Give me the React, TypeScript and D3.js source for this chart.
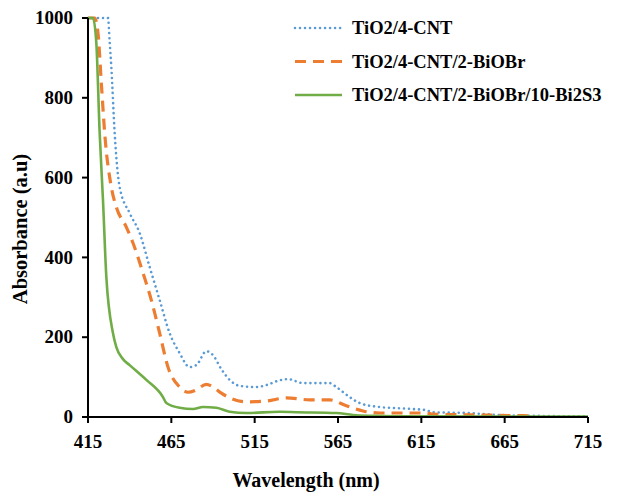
import React from "react";
import * as d3 from "d3";

const seriesNames = ["TiO2/4-CNT", "TiO2/4-CNT/2-BiOBr", "TiO2/4-CNT/2-BiOBr/10-Bi2S3"];
const colors = ["#5B9BD5", "#ED7D31", "#70AD47"];

const blueX = [415, 427, 428, 429, 431, 434, 440, 446, 452, 458, 464, 470, 476, 480, 486, 490, 495, 500, 506, 516, 522, 530, 535, 544, 560, 564, 572, 578, 590, 602, 610, 618, 622, 642, 662, 682, 700, 715];
const blueY = [1000, 1000, 940, 877, 712, 576, 511, 461, 376, 293, 210, 160, 125, 130, 165, 155, 120, 93, 78, 75, 80, 92, 95, 85, 85, 75, 50, 35, 25, 22, 20, 17, 12, 10, 5, 3, 2, 2];

const orangeX = [415, 419, 421, 423, 425, 429, 432, 438, 442, 448, 453, 458, 463, 470, 475, 480, 486, 490, 495, 500, 510, 522, 534, 548, 560, 570, 580, 590, 606, 618, 622, 650, 680];
const orangeY = [1000, 1000, 962, 837, 712, 576, 526, 476, 436, 361, 293, 210, 125, 75, 62, 68, 82, 75, 60, 48, 38, 40, 48, 43, 43, 28, 15, 10, 10, 10, 7, 5, 3];

const greenX = [415, 418, 420, 422, 424, 426, 430, 432, 436, 440, 450, 460, 462, 470, 478, 484, 492, 500, 510, 530, 540, 564, 574, 586, 600, 715];
const greenY = [1000, 1000, 937, 712, 543, 351, 210, 175, 145, 130, 93, 50, 35, 23, 20, 25, 23, 13, 10, 13, 12, 10, 5, 3, 2, 1];

const xTicks = [415, 465, 515, 565, 615, 665, 715];
const yTicks = [0, 200, 400, 600, 800, 1000];

const W = 625, H = 494;
const left = 88, right = 588, top = 18, bottom = 417;
const font = "'Liberation Serif', 'Times New Roman', serif";

export default function App() {
  const x = d3.scaleLinear().domain([415, 715]).range([left, right]);
  const y = d3.scaleLinear().domain([0, 1000]).range([bottom, top]);
  const line = d3.line<[number, number]>().x(d => x(d[0])).y(d => y(d[1])).curve(d3.curveMonotoneX);
  const series = [
    blueX.map((v, i) => [v, blueY[i]] as [number, number]),
    orangeX.map((v, i) => [v, orangeY[i]] as [number, number]),
    greenX.map((v, i) => [v, greenY[i]] as [number, number]),
  ];
  const styles = [
    { dash: "0.01 5", width: 2.6, cap: "round" },
    { dash: "11 7", width: 3.2, cap: "butt" },
    { dash: undefined, width: 2.6, cap: "butt" },
  ];
  return (
    <svg width={W} height={H} style={{ position: "absolute", left: 0, top: 0, background: "#fff" }}>
      <rect x={0} y={0} width={W} height={H} fill="#fff" />
      {series.map((s, i) => (
        <path key={i} d={line(s) || ""} fill="none" stroke={colors[i]} strokeWidth={styles[i].width}
          strokeDasharray={styles[i].dash} strokeLinecap={styles[i].cap as any} strokeLinejoin="round" />
      ))}
      <line x1={left} x2={left} y1={top} y2={bottom} stroke="#000" strokeWidth={2} />
      <line x1={left} x2={right} y1={bottom} y2={bottom} stroke="#000" strokeWidth={2} />
      {yTicks.map(t => (
        <g key={t}>
          <line x1={left - 6} x2={left} y1={y(t)} y2={y(t)} stroke="#000" strokeWidth={2} />
          <text x={left - 15} y={y(t)} dy="0.33em" textAnchor="end" fontFamily={font} fontWeight="bold" fontSize={19}>{t}</text>
        </g>
      ))}
      {xTicks.map(t => (
        <g key={t}>
          <line x1={x(t)} x2={x(t)} y1={bottom} y2={bottom + 6} stroke="#000" strokeWidth={2} />
          <text x={x(t)} y={bottom + 31} textAnchor="middle" fontFamily={font} fontWeight="bold" fontSize={19}>{t}</text>
        </g>
      ))}
      <text x={306} y={487} textAnchor="middle" fontFamily={font} fontWeight="bold" fontSize={20}>Wavelength (nm)</text>
      <text transform={`translate(27,${229}) rotate(-90)`} textAnchor="middle" fontFamily={font} fontWeight="bold" fontSize={20.5}>Absorbance (a.u)</text>
      {seriesNames.map((n, i) => (
        <g key={n}>
          <line x1={295} x2={342} y1={28 + i * 33.5} y2={28 + i * 33.5} stroke={colors[i]} strokeWidth={styles[i].width}
            strokeDasharray={styles[i].dash} strokeLinecap={styles[i].cap as any} />
          <text x={352} y={28 + i * 33.5} dy="0.35em" fontFamily={font} fontWeight="bold" fontSize={18.5}>{n}</text>
        </g>
      ))}
    </svg>
  );
}
